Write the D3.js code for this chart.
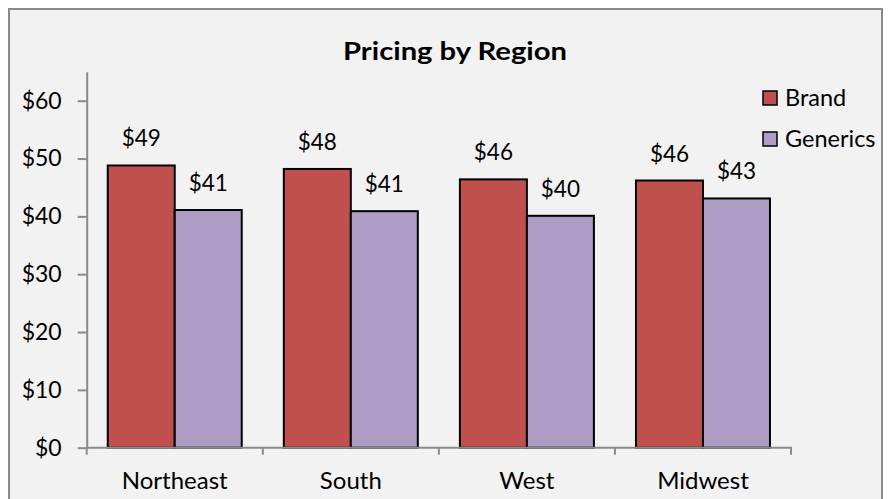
<!DOCTYPE html>
<html>
<head>
<meta charset="utf-8">
<script src="https://cdn.jsdelivr.net/npm/d3@7"></script>
<style>
  html, body { margin: 0; padding: 0; background: #fff; }
  svg { display: block; font-family: Lato, "Noto Sans", sans-serif; }
</style>
</head>
<body>
<svg id="chart" width="889" height="499"></svg>
<script>
const regions = ["Northeast", "South", "West", "Midwest"];
const seriesNames = ["Brand", "Generics"];
const brandValues = [48.8, 48.2, 46.4, 46.2];
const genericValues = [41.1, 40.9, 40.1, 43.1];
const yTicks = [0, 10, 20, 30, 40, 50, 60];
const colors = ["#c0504d", "#ad9dc4"];

window.onload = main;

function main() {
  const svg = d3.select("#chart");

  // chart area
  svg.append("rect")
    .attr("x", 9).attr("y", 9)
    .attr("width", 873).attr("height", 500)
    .attr("fill", "#f2f2f2")
    .attr("stroke", "#8a8a8a")
    .attr("stroke-width", 2);

  const plotLeft = 86.7, plotRight = 791, plotBottom = 447.7, plotTop = 71.8;

  const y = d3.scaleLinear().domain([0, 65]).range([plotBottom, plotTop]);
  const x0 = d3.scaleBand().domain(regions).range([plotLeft, plotRight]).padding(0);
  const x1 = d3.scaleBand().domain(seriesNames)
    .range([0, x0.bandwidth()])
    .paddingInner(0).paddingOuter(0.314);

  const rows = regions.map((r, i) => ({
    region: r,
    values: [
      { name: "Brand", value: brandValues[i] },
      { name: "Generics", value: genericValues[i] },
    ],
  }));

  // title (the original text is a bit wide, so stretch it)
  svg.append("text")
    .attr("x", 455).attr("y", 60)
    .attr("text-anchor", "middle")
    .attr("textLength", 224)
    .attr("lengthAdjust", "spacingAndGlyphs")
    .style("font-size", "25px")
    .style("font-weight", "bold")
    .text("Pricing by Region");

  // y axis
  const yAxis = svg.append("g")
    .attr("transform", `translate(${plotLeft},0)`)
    .call(d3.axisLeft(y).tickValues(yTicks).tickSize(9).tickSizeOuter(0)
      .tickPadding(16).tickFormat((d) => "$" + d));
  yAxis.select(".domain").attr("stroke", "#8a8a8a").attr("stroke-width", 2);
  yAxis.selectAll(".tick line").attr("stroke", "#8a8a8a").attr("stroke-width", 2);
  yAxis.selectAll(".tick text")
    .attr("fill", "#000")
    .style("font-size", "23px")
    .style("font-family", "Lato, 'Noto Sans', sans-serif")
    .attr("dy", "0.32em");

  // bars
  const groups = svg.selectAll(".group")
    .data(rows)
    .enter()
    .append("g")
    .attr("class", "group")
    .attr("transform", (d) => `translate(${x0(d.region)},0)`);

  groups.selectAll("rect")
    .data((d) => d.values)
    .enter()
    .append("rect")
    .attr("x", (d) => x1(d.name))
    .attr("y", (d) => y(d.value))
    .attr("width", x1.bandwidth())
    .attr("height", (d) => plotBottom - y(d.value))
    .attr("fill", (d, i) => colors[i])
    .attr("stroke", "#000")
    .attr("stroke-width", 2);

  groups.selectAll(".label")
    .data((d) => d.values)
    .enter()
    .append("text")
    .attr("class", "label")
    .attr("x", (d) => x1(d.name) + x1.bandwidth() / 2)
    .attr("y", (d) => y(d.value) - 19)
    .attr("text-anchor", "middle")
    .style("font-size", "22.5px")
    .text((d) => "$" + Math.round(d.value));

  // x axis, ticks sit on the category boundaries
  const xAxis = svg.append("g");
  xAxis.append("line")
    .attr("x1", plotLeft - 1).attr("x2", plotRight + 1)
    .attr("y1", plotBottom).attr("y2", plotBottom)
    .attr("stroke", "#8a8a8a").attr("stroke-width", 2);
  const bounds = regions.map((r) => x0(r))
    .concat([x0(regions[regions.length - 1]) + x0.bandwidth()]);
  xAxis.selectAll(".xtick")
    .data(bounds)
    .enter()
    .append("line")
    .attr("x1", (d) => d).attr("x2", (d) => d)
    .attr("y1", plotBottom).attr("y2", plotBottom + 7)
    .attr("stroke", "#8a8a8a").attr("stroke-width", 2);
  xAxis.selectAll(".xlabel")
    .data(regions)
    .enter()
    .append("text")
    .attr("x", (d) => x0(d) + x0.bandwidth() / 2)
    .attr("y", 489)
    .attr("text-anchor", "middle")
    .style("font-size", "24px")
    .text((d) => d);

  // legend
  const legend = svg.selectAll(".legend")
    .data(seriesNames)
    .enter()
    .append("g")
    .attr("class", "legend")
    .attr("transform", (d, i) => `translate(763,${91 + i * 41})`);
  legend.append("rect")
    .attr("width", 14).attr("height", 14)
    .attr("fill", (d, i) => colors[i])
    .attr("stroke", "#000").attr("stroke-width", 1.5);
  legend.append("text")
    .attr("x", 22).attr("y", 15)
    .style("font-size", "23.5px")
    .text((d) => d);
}
</script>
</body>
</html>
